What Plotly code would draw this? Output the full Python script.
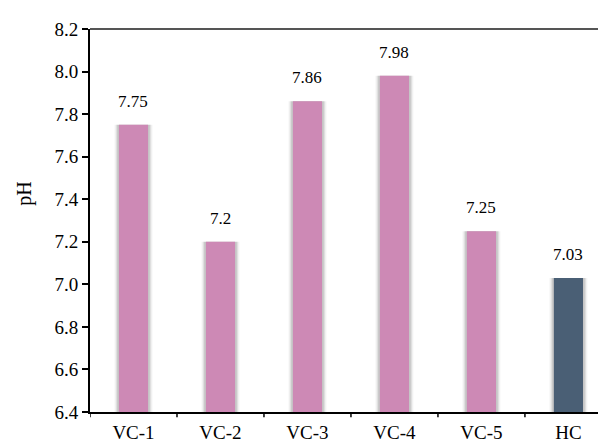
import plotly.graph_objects as go

# Soil samples and their measured pH
samples = ["VC-1", "VC-2", "VC-3", "VC-4", "VC-5", "HC"]
ph_values = [7.75, 7.2, 7.86, 7.98, 7.25, 7.03]
value_labels = ["7.75", "7.2", "7.86", "7.98", "7.25", "7.03"]
bar_colors = ["#CD89B5", "#CD89B5", "#CD89B5", "#CD89B5", "#CD89B5", "#4A5F75"]
y_ticks = [6.4, 6.6, 6.8, 7.0, 7.2, 7.4, 7.6, 7.8, 8.0, 8.2]

FONT = "Liberation Serif"
BASE = 6.4
BAR_W = 0.335

xs = list(range(len(samples)))
heights = [v - BASE for v in ph_values]

fig = go.Figure()

# soft glow/shadow around each bar, built up from faint wider layers
for extra, alpha in [(0.10, 0.05), (0.07, 0.08), (0.04, 0.11)]:
    fig.add_trace(go.Bar(
        x=xs, y=heights, base=BASE,
        width=BAR_W + extra,
        marker=dict(color=f"rgba(0,0,0,{alpha})", line=dict(width=0)),
        hoverinfo="skip",
    ))

fig.add_trace(go.Bar(
    x=xs, y=heights, base=BASE,
    width=BAR_W,
    marker=dict(color=bar_colors, line=dict(width=0)),
))

for i, (v, t) in enumerate(zip(ph_values, value_labels)):
    fig.add_annotation(
        x=i, y=v, text=t, showarrow=False,
        yanchor="bottom", yshift=12,
        font=dict(family=FONT, size=17, color="#000000"),
    )

# y-axis title
fig.add_annotation(
    xref="paper", yref="paper", x=-0.128, y=0.57,
    text="pH", textangle=-90, showarrow=False,
    xanchor="center", yanchor="middle",
    font=dict(family=FONT, size=20, color="#000000"),
)

# grey frame line along the top of the plot area
fig.add_shape(type="line", xref="paper", yref="paper",
              x0=0, x1=1, y0=1, y1=1,
              line=dict(color="#555555", width=2))

# category boundary tick marks below the x axis
for b in range(len(samples)):
    fig.add_shape(type="line", xref="x", yref="paper",
                  x0=b - 0.5, x1=b - 0.5, y0=0, y1=-0.014,
                  line=dict(color="#000000", width=1.5))

fig.update_layout(
    width=598, height=444,
    margin=dict(l=90, r=0, t=29, b=32, autoexpand=False),
    paper_bgcolor="white", plot_bgcolor="white",
    showlegend=False,
    barmode="overlay",
    font=dict(family=FONT, color="#000000"),
    xaxis=dict(
        range=[-0.5, 5.34],
        tickmode="array",
        tickvals=xs,
        ticktext=samples,
        automargin=False,
        showgrid=False, zeroline=False,
        showline=True, linecolor="#000000", linewidth=2,
        ticks="outside", ticklen=2, tickcolor="rgba(0,0,0,0)",
        tickfont=dict(family=FONT, size=19),
    ),
    yaxis=dict(
        range=[6.4, 8.2],
        tickmode="array",
        tickvals=y_ticks,
        ticktext=[f"{t:.1f}" for t in y_ticks],
        automargin=False,
        showgrid=False, zeroline=False,
        showline=True, linecolor="#000000", linewidth=2,
        ticks="outside", ticklen=6, tickwidth=1.5, tickcolor="#000000",
        tickfont=dict(family=FONT, size=19),
    ),
)

fig.write_html("out.html")
